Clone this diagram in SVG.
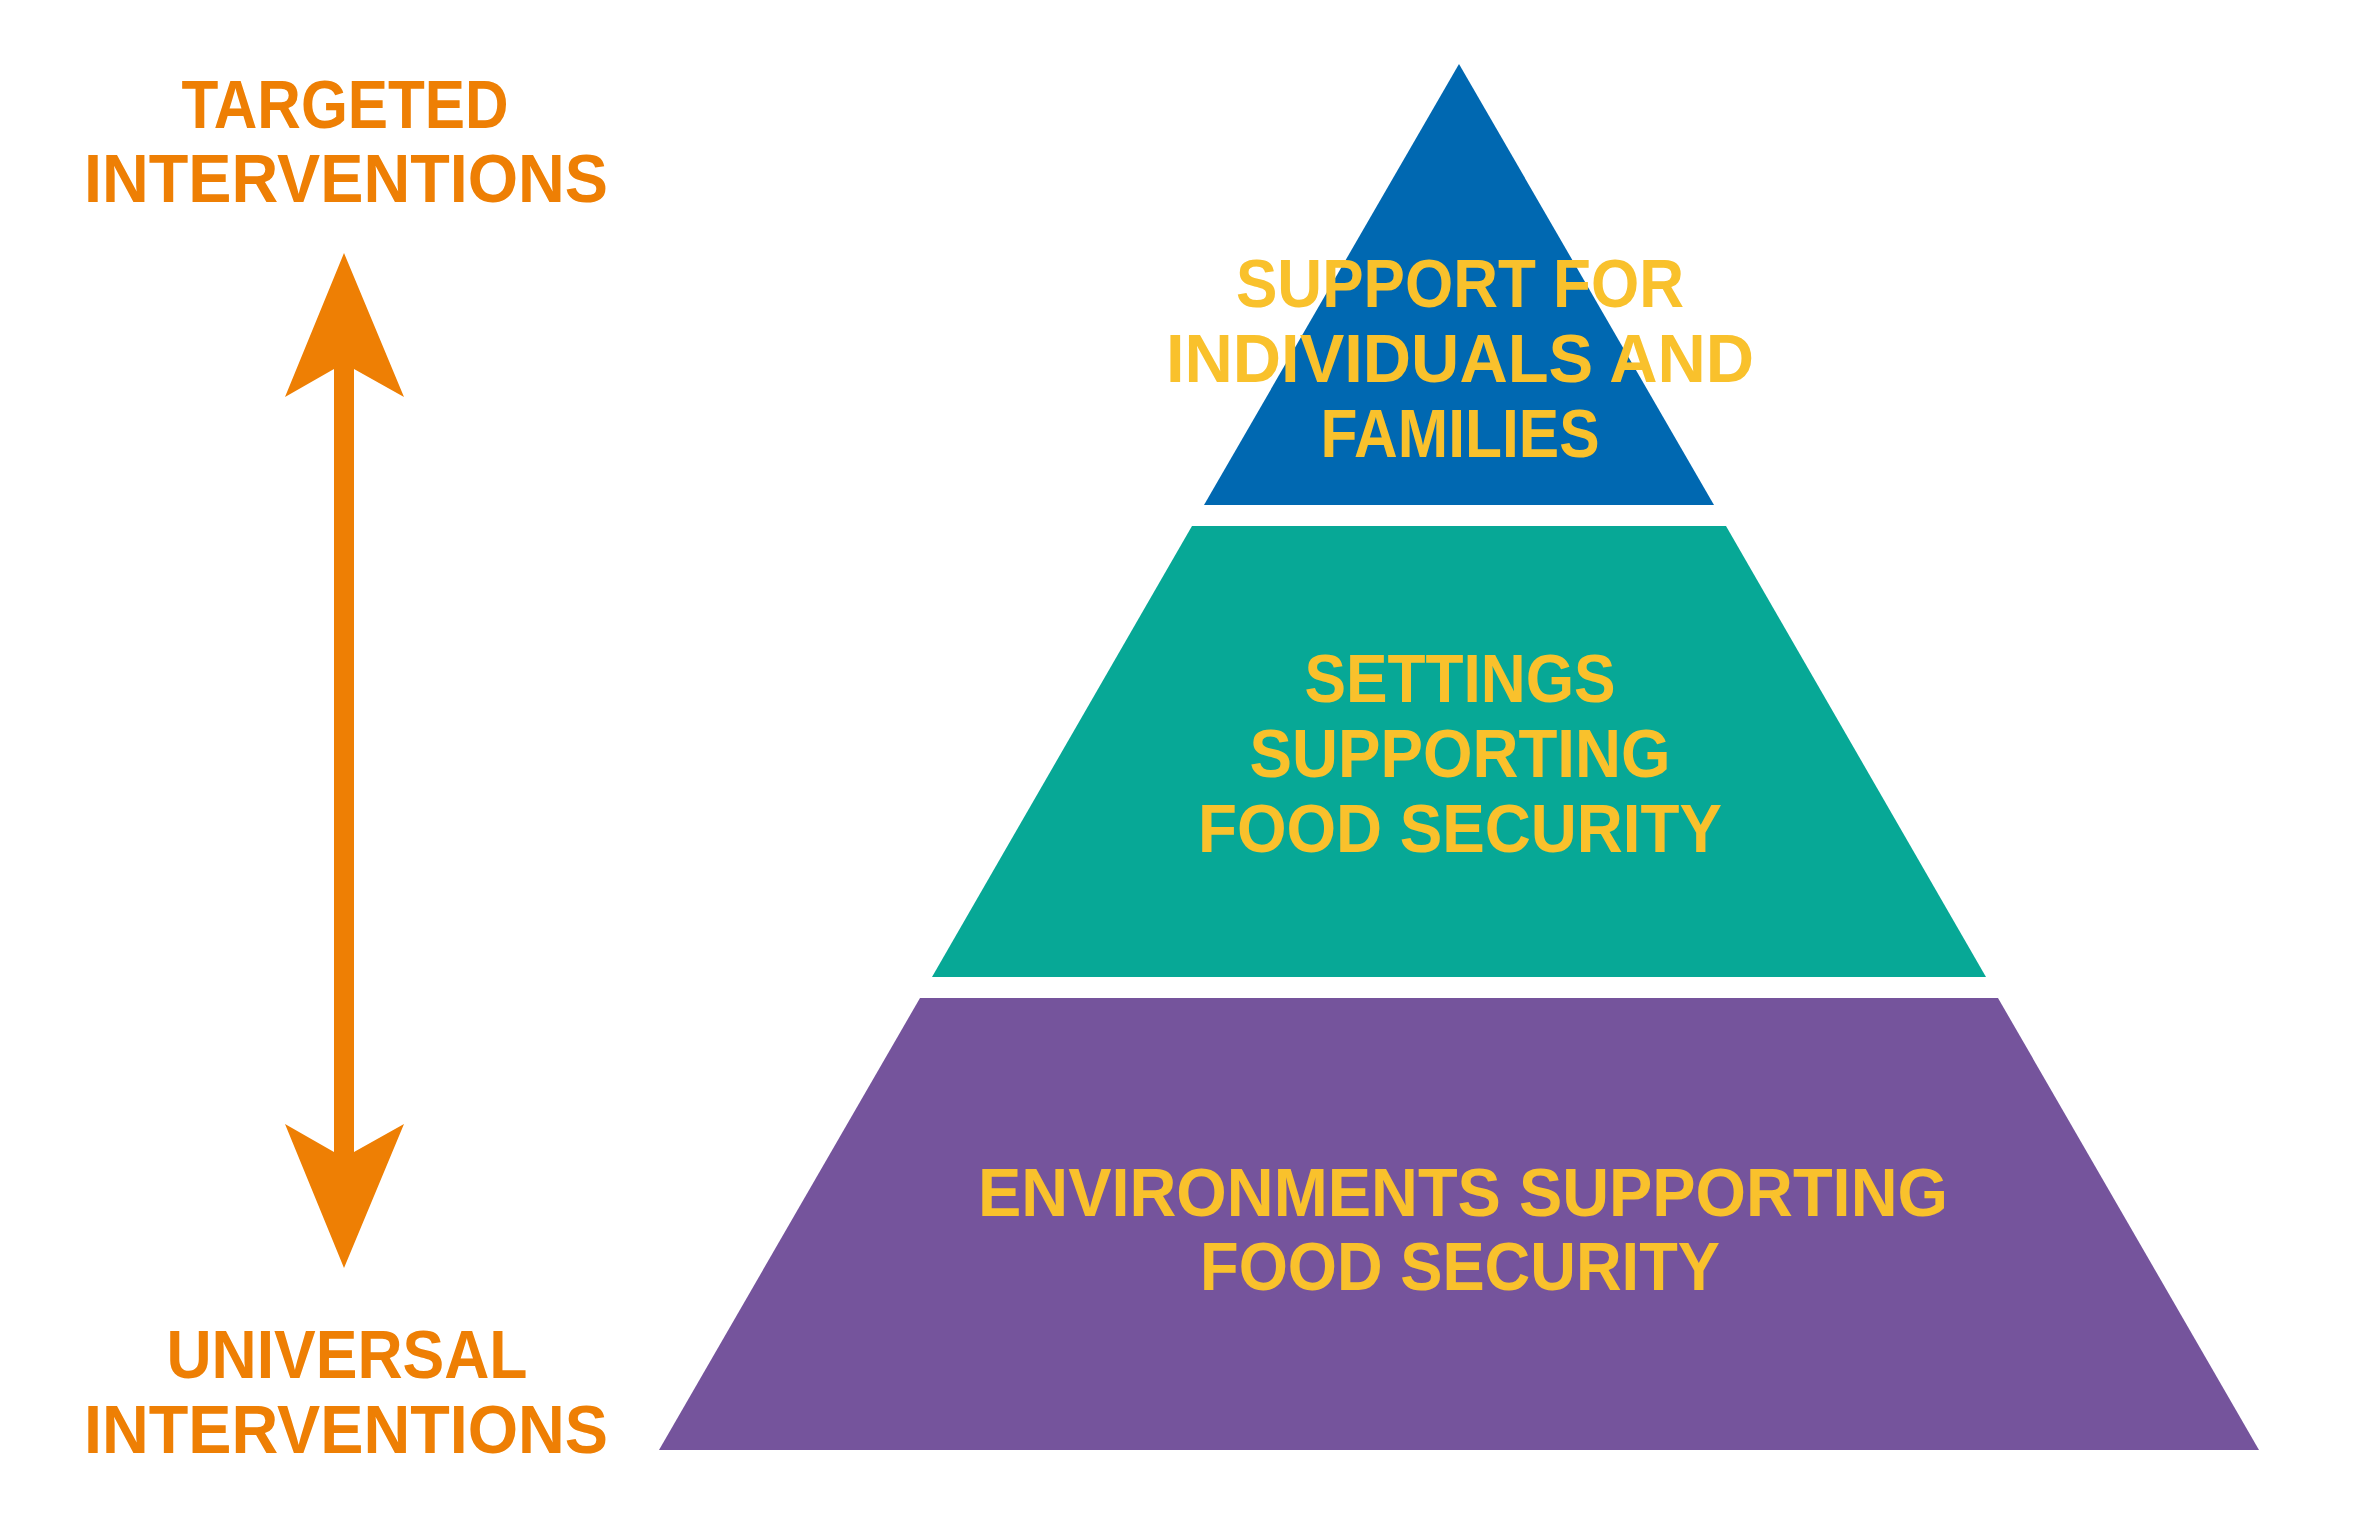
<svg xmlns="http://www.w3.org/2000/svg" width="2363" height="1520" viewBox="0 0 2363 1520">
<style>
.t{font-family:"Liberation Sans",Arial,sans-serif;font-weight:bold;font-size:68px;text-anchor:middle}
.y{fill:#F9C12C}
.o{fill:#EE7F04}
</style>
<rect width="2363" height="1520" fill="#ffffff"/>
<g transform="translate(-2,0)">
<g id="tier-top">
<polygon points="1461,64 1716,505 1206,505" fill="#0068B1"/>
<text class="t y" x="1462" y="307" textLength="448" lengthAdjust="spacingAndGlyphs">SUPPORT FOR</text>
<text class="t y" x="1462" y="382" textLength="588" lengthAdjust="spacingAndGlyphs">INDIVIDUALS AND</text>
<text class="t y" x="1462" y="457" textLength="279" lengthAdjust="spacingAndGlyphs">FAMILIES</text>
</g>
<g id="tier-middle">
<polygon points="1194,526 1728,526 1988,977 934,977" fill="#07A896"/>
<text class="t y" x="1462" y="702" textLength="311" lengthAdjust="spacingAndGlyphs">SETTINGS</text>
<text class="t y" x="1462" y="777" textLength="421" lengthAdjust="spacingAndGlyphs">SUPPORTING</text>
<text class="t y" x="1462" y="852" textLength="524" lengthAdjust="spacingAndGlyphs">FOOD SECURITY</text>
</g>
<g id="tier-bottom">
<polygon points="922,998 2000,998 2261,1450 661,1450" fill="#75549C"/>
<text class="t y" x="1465" y="1216" textLength="970" lengthAdjust="spacingAndGlyphs">ENVIRONMENTS SUPPORTING</text>
<text class="t y" x="1462" y="1290" textLength="520" lengthAdjust="spacingAndGlyphs">FOOD SECURITY</text>
</g>
<g id="label-targeted">
<text class="t o" x="347" y="128" textLength="327" lengthAdjust="spacingAndGlyphs">TARGETED</text>
<text class="t o" x="348" y="202" textLength="524" lengthAdjust="spacingAndGlyphs">INTERVENTIONS</text>
</g>
<g id="label-universal">
<text class="t o" x="349" y="1378" textLength="361" lengthAdjust="spacingAndGlyphs">UNIVERSAL</text>
<text class="t o" x="348" y="1453" textLength="524" lengthAdjust="spacingAndGlyphs">INTERVENTIONS</text>
</g>
<g id="connectors">
<polygon points="346,253 406,397 356,369 356,1152 406,1124 346,1268 287,1124 336,1152 336,369 287,397" fill="#EE7F04"/>
</g>
</g>
</svg>
